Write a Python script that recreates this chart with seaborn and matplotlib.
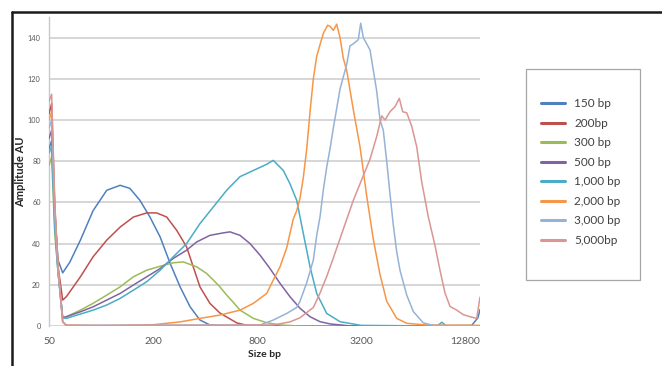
import numpy as np
import matplotlib
matplotlib.use('Agg')
import matplotlib.pyplot as plt
from matplotlib.lines import Line2D
from matplotlib.patches import Rectangle
import seaborn as sns
import pandas as pd

# Data (size in bp, amplitude in AU)
labels = ['150 bp', '200bp', '300 bp', '500 bp', '1,000 bp', '2,000 bp', '3,000 bp', '5,000bp']
colors = ['#4F81BD', '#C0504D', '#9BBB59', '#8064A2', '#4BACC6', '#F79646', '#95B3D7', '#D99694']

size_150 = [50, 51.8, 54, 56.4, 60, 66, 76, 90, 108, 129, 147, 168, 192, 220, 251, 287, 328, 374, 427, 500,
            1000, 3000, 8000, 14000, 15200, 15630]
amp_150 = [86, 90, 55, 32, 25.8, 31, 41.7, 56, 65.9, 68.3, 66.8, 61, 52.9, 43.2, 30.5, 19, 9.3, 2.9, 0.5, 0,
           0, 0, 0, 0.3, 4, 8]

size_200 = [50, 51.8, 54, 56.4, 60, 63, 76, 90, 108, 129, 154, 184, 210, 240, 274, 313, 342, 374, 427, 488,
            611, 729, 15630]
amp_200 = [103, 108, 58, 29, 12.6, 14.2, 23.9, 33.6, 41.7, 48, 52.9, 54.9, 54.9, 52.9, 46.5, 38.4, 28.7, 19, 11, 6.3,
           1.5, 0, 0]

size_300 = [50, 51.8, 54, 56.4, 60, 63, 76, 90, 108, 129, 154, 184, 220, 262, 300, 358, 409, 447, 488, 534,
            583, 638, 762, 910, 1087, 1400, 15630]
amp_300 = [78, 82, 45, 26, 4, 4.5, 7.7, 11, 15, 19, 23.9, 27.1, 29, 30.7, 31.1, 28.7, 25.5, 22.3, 19, 15,
           11.5, 7.7, 3.7, 1.6, 0.5, 0, 0]

size_500 = [50, 51.8, 54, 56.4, 60, 63, 76, 90, 108, 129, 154, 184, 220, 262, 313, 358, 427, 510, 558, 638,
            729, 833, 951, 1087, 1242, 1419, 1622, 1853, 2117, 2800, 15630]
amp_500 = [91, 95, 52, 27, 4, 4.5, 6.9, 9.3, 12.6, 15.8, 19.9, 23.9, 27.9, 32.8, 36.8, 40.8, 44, 45.2, 45.7, 44,
           40, 34.4, 27.9, 20.7, 14.2, 8.6, 4.5, 2.1, 1, 0, 0]

size_1000 = [50, 51.8, 54, 56.4, 60, 63, 76, 90, 108, 129, 154, 184, 220, 262, 313, 374, 447, 534, 638, 762,
             910, 994, 1136, 1242, 1358, 1483, 1622, 1773, 2025, 2419, 3200, 8800, 9400, 10000, 15630]
amp_1000 = [84, 87, 48, 26, 4, 3.7, 5.8, 7.7, 10.2, 13.4, 17.4, 21.5, 27.1, 33.6, 40, 49.7, 57.8, 65.9, 72.5, 75.5,
            78.5, 80.4, 75.5, 69, 61, 44.9, 28.7, 15.8, 6.1, 2.1, 0.3, 0, 1.8, 0, 0]

size_2000 = [50, 51.8, 54, 56.4, 60, 63, 100, 200, 287, 374, 488, 638, 762, 910, 994, 1087, 1189, 1242, 1298, 1358,
             1419, 1483, 1552, 1622, 1695, 1773, 1936, 2050, 2117, 2212, 2315, 2419, 2527, 2645, 2888, 3158, 3453,
             3771, 4122, 4507, 5150, 5886, 7680, 15630]
amp_2000 = [100, 104, 57, 28, 2, 0.5, 0.2, 0.6, 2, 3.7, 5.3, 7.7, 11, 15.8, 22.3, 28.7, 38, 45, 52, 56,
            62, 72, 86, 104, 120, 131, 142, 146, 145.5, 143.5, 146.5, 140, 130, 124, 105, 87, 63,
            42, 25, 12, 3.7, 1.3, 0.5, 0.3]

size_3000 = [50, 51.8, 54, 56.4, 60, 63, 833, 994, 1189, 1358, 1419, 1552, 1695, 1773, 1853, 1936, 2025, 2117, 2212,
             2419, 2645, 2763, 2888, 3087, 3187, 3300, 3608, 3945, 4122, 4307, 4507, 4710, 4922, 5150, 5382, 5886,
             6427, 7342, 8386, 15630]
amp_3000 = [96, 100, 55, 27, 2, 0.3, 0.5, 2.9, 6.1, 9, 12, 21, 32, 44, 53, 66, 77, 86, 96,
            115, 127, 136, 137, 139, 147, 140, 134, 114, 100, 95, 80, 64, 49, 36, 27, 15,
            7, 1.5, 0.3, 0]

size_5000 = [50, 51.8, 54, 56.4, 60, 63, 994, 1242, 1419, 1695, 1853, 2025, 2212, 2527, 2888, 3300, 3608, 3945,
             4217, 4407, 4710, 5035, 5332, 5578, 5886, 6290, 6724, 7187, 7846, 8582, 9172, 9802, 10480, 11460,
             12510, 13680, 14960, 15630]
amp_5000 = [109, 112.5, 60, 29, 2, 0.2, 0.5, 2, 4, 9, 16, 24, 33, 47, 61, 73, 81, 92,
            102, 100, 104, 106.5, 110.5, 104, 103.5, 97, 87, 70, 53, 39, 27, 16, 9.5, 7.7,
            5.5, 4.5, 3.7, 14]

sizes = [size_150, size_200, size_300, size_500, size_1000, size_2000, size_3000, size_5000]
amps = [amp_150, amp_200, amp_300, amp_500, amp_1000, amp_2000, amp_3000, amp_5000]

x_ticks = [50, 200, 800, 3200, 12800]
y_ticks = [0, 20, 40, 60, 80, 100, 120, 140]

# Long table for seaborn
frames = []
for lab, s, a in zip(labels, sizes, amps):
    frames.append(pd.DataFrame({'Size bp': s, 'Amplitude AU': a, 'Sample': lab}))
df = pd.concat(frames, ignore_index=True)

sns.set_style('white')
plt.rcParams['font.family'] = ['Lato', 'DejaVu Sans']

fig = plt.figure(figsize=(6.62, 3.66), dpi=100)
ax = fig.add_axes([49 / 662, 1 - 326 / 366, (480 - 49) / 662, (326 - 17) / 366])

sns.lineplot(data=df, x='Size bp', y='Amplitude AU', hue='Sample', hue_order=labels,
             palette=dict(zip(labels, colors)), estimator=None, sort=False,
             linewidth=1.1, legend=False, ax=ax, zorder=3)

ax.set_xscale('log', base=2)
ax.set_xlim(50, 15630)
ax.set_ylim(0, 150)
ax.set_xticks(x_ticks)
ax.set_xticklabels([str(t) for t in x_ticks])
ax.minorticks_off()
ax.set_yticks(y_ticks)
ax.set_yticklabels([str(t) for t in y_ticks])

# Grid and axes styling
ax.grid(axis='y', color='#d0d0d0', linewidth=1.2, zorder=0)
ax.grid(axis='x', visible=False)
for side in ['top', 'right', 'bottom']:
    ax.spines[side].set_visible(False)
ax.spines['left'].set_color('#c8c8c8')
ax.spines['left'].set_linewidth(1.0)
ax.tick_params(axis='y', labelsize=5.3, colors='#c8c8c8', labelcolor='#595959', length=3, width=1.0, pad=3)
ax.tick_params(axis='x', labelsize=7.5, colors='#c8c8c8', labelcolor='#595959', length=2, width=0.8, pad=6)

ax.set_xlabel('Size bp', fontsize=7.5, fontweight='bold', color='#262626', labelpad=3)
ax.set_ylabel('Amplitude AU', fontsize=8, fontweight='bold', color='#262626', labelpad=1)

# Legend in its own box to the right
handles = [Line2D([0], [0], color=c, linewidth=2.2) for c in colors]
fig.legend(handles, labels, loc='center', bbox_to_anchor=(581 / 662, 1 - 172 / 366),
           frameon=False, fontsize=8.5, labelspacing=0.72, handlelength=2.0, handletextpad=0.8,
           labelcolor='#404040')
fig.add_artist(Rectangle((526 / 662, 1 - 280 / 366), (640 - 526) / 662, (280 - 69) / 366,
                         transform=fig.transFigure, fill=False, edgecolor='#a6a6a6', linewidth=0.9))

# Dark frame at top and left of the screenshot
fig.add_artist(Line2D([12 / 662, 1], [1 - 12 / 366, 1 - 12 / 366], transform=fig.transFigure,
                      color='#1a1a1a', linewidth=1.8))
fig.add_artist(Line2D([12 / 662, 12 / 662], [0, 1 - 12 / 366], transform=fig.transFigure,
                      color='#1a1a1a', linewidth=1.8))

fig.savefig('out.png', dpi=100, facecolor='white')
